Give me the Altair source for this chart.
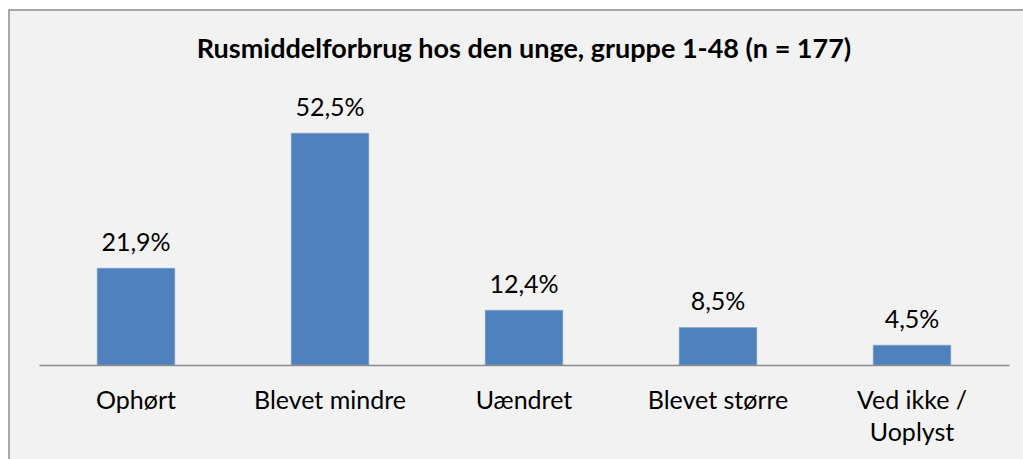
import altair as alt
import pandas as pd

categories = ["Ophørt", "Blevet mindre", "Uændret", "Blevet større", "Ved ikke / Uoplyst"]
values = [21.9, 52.5, 12.4, 8.5, 4.5]
title_text = "Rusmiddelforbrug  hos den unge, gruppe 1-48 (n = 177)"

df = pd.DataFrame({"cat": categories, "v": values})

W, H = 970, 265
FONT = "Lato"

frame = alt.Chart(pd.DataFrame({"a": [0]})).mark_rect(
    fill="#F2F2F2", stroke="#8C8C8C", strokeWidth=1.5
).encode(
    x=alt.value(-30), x2=alt.value(W + 40), y=alt.value(-90), y2=alt.value(H + 120)
)

xenc = alt.X(
    "cat:N", sort=categories, title=None,
    scale=alt.Scale(paddingInner=0.6, paddingOuter=0.3),
    axis=alt.Axis(
        labelAngle=0, labelFontSize=25, labelFont=FONT, labelColor="#000000",
        labelPadding=23, labelLineHeight=32, ticks=False, domainColor="#8C8C8C",
        domainWidth=1.5, zindex=1,
        labelExpr="datum.label == 'Ved ikke / Uoplyst' ? ['Ved ikke /', 'Uoplyst'] : datum.label",
    ),
)
yenc = alt.Y("v:Q", scale=alt.Scale(domain=[0, 60]), axis=None)

bars = alt.Chart(df).mark_bar(color="#4F81BD", stroke="#7FA3D0", strokeWidth=0.5).encode(x=xenc, y=yenc)
text = alt.Chart(df).transform_calculate(
    lab="replace(format(datum.v, '.1f'), '.', ',') + '%'"
).mark_text(baseline="bottom", dy=-12, fontSize=25, font=FONT, color="#000000").encode(
    x=alt.X("cat:N", sort=categories), y="v:Q", text="lab:N"
)

title = alt.Chart(pd.DataFrame({"t": [title_text]})).mark_text(
    fontSize=27, fontWeight="bold", font=FONT, color="#000000", baseline="middle"
).encode(x=alt.value(485), y=alt.value(-50), text="t:N")

chart = alt.layer(frame, bars, text, title).properties(
    width=W, height=H,
    padding={"left": 39, "top": 100, "right": 14, "bottom": 94},
    autosize=alt.AutoSizeParams(type="none"),
    background="#FFFFFF",
).configure_view(stroke=None)

chart.save("out.html", embed_options={"renderer": "svg", "actions": False})
